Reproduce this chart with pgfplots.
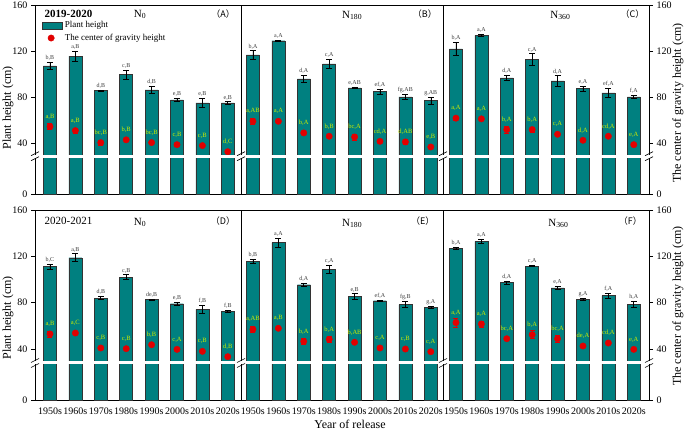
\documentclass[border=0pt]{standalone}
\usepackage{pgfplots}
\pgfplotsset{compat=1.18}
\usepackage{pgfplotstable}
\usepackage{fontspec}
\setmainfont{Liberation Serif}
\newfontfamily\cjk{Noto Sans CJK SC}
\definecolor{barteal}{RGB}{0,128,128}
\definecolor{dotred}{RGB}{225,0,0}
\definecolor{lblgreen}{RGB}{205,235,0}
\definecolor{lblgray}{RGB}{60,60,60}

\pgfplotstableread{
x h he c ce lt lc
0 107.2 3 54.5 2.5 b,B a,B
1 115.6 4.5 51 2 a,B a,B
2 85.8 0.5 40.6 2 d,B bc,B
3 99.7 4 43 1.2 c,B b,B
4 86.4 3 40.6 1 d,B bc,B
5 77.7 1.5 38.8 1.2 e,B c,B
6 75.0 4 38 1.2 e,B c,B
7 75.1 1 32.7 1 e,B d,C
}\tabA
\pgfplotstableread{
x h he c ce lt lc
0 116.8 3.5 59.1 3 b,A a,AB
1 129.0 0.5 59.1 1.5 a,A a,A
2 95.9 3 49 1 d,A b,A
3 109 4 46.1 1 c,A b,B
4 88.1 0.8 45.5 2.5 e,AB bc,A
5 84.9 2 41.7 1 ef,A cd,A
6 80.3 2 41.2 2.5 fg,AB d,AB
7 77.1 3 36.8 1 g,AB e,B
}\tabB
\pgfplotstableread{
x h he c ce lt lc
0 122 5.5 61.8 1.5 b,A a,A
1 133.6 1 61.2 1.5 a,A a,A
2 96.8 2.5 51.9 3 d,A b,A
3 112.8 5 51.9 2 c,A b,A
4 94.2 4.5 47.8 1 d,A c,A
5 87.5 2 42.6 1 e,A d,A
6 83.8 4 46.1 1 ef,A cd,A
7 80.3 1.5 38.8 1 f,A e,A
}\tabC
\pgfplotstableread{
x h he c ce lt lc
0 111.1 2 53 2.5 b,C a,B
1 118.8 3.5 53.8 1 a,B a,C
2 84.0 1.5 40.9 1.5 d,B c,B
3 102.1 2 40.3 1 c,B c,B
4 82.6 0.5 43.7 1 de,B b,B
5 79.1 1 39.7 1 e,B c,A
6 74.2 3.5 38 2 f,B c,B
7 72.5 1 33.4 1.5 f,B d,B
}\tabD
\pgfplotstableread{
x h he c ce lt lc
0 115.7 2 57 2.5 b,B a,AB
1 131.8 4 57.9 1 a,A a,B
2 95.5 1 46.6 2.5 d,A b,A
3 108.8 3.5 48.4 2.5 c,A b,A
4 85.2 2.5 45.8 1 e,B b,AB
5 81.7 0.3 40.9 1.5 ef,A c,A
6 78.3 2.5 40 1 fg,B c,B
7 76 0.5 37.7 1 g,A c,A
}\tabE
\pgfplotstableread{
x h he c ce lt lc
0 126.9 1 62.8 4 b,A a,A
1 133 2 61.6 2.5 a,A a,A
2 97.3 1.5 48.9 1.5 d,A bc,A
3 111.6 0.5 52.4 3.5 c,A b,A
4 92.7 1.5 48.9 3 e,A bc,A
5 82.9 0.5 42.6 1 g,A de,A
6 86.1 2 45.2 1 f,A cd,A
7 78.6 2.5 39.7 1 h,A e,A
}\tabF

\pgfplotsset{
  y coord trafo/.code={\pgfmathparse{#1<30 ? #1*34/30 : #1+4}},
  y coord inv trafo/.code={\pgfmathparse{#1<34 ? #1*30/34 : #1-4}},
  panelbase/.style={
    scale only axis, anchor=south west, clip=false,
    ymin=0, ymax=160,
    ytick={0,40,80,120,160}, yticklabels={0,40,80,120,160},
    xtick={0,...,7}, xticklabels={}, xtick style={draw=none},
    tick align=outside, major tick length=4pt,
    axis line style={line width=0.6pt, black},
    ytick style={line width=0.6pt, black},
    ticklabel style={font=\fontsize{10}{12}\selectfont},
    /pgf/number format/assume math mode=true,
  },
  leftpanel/.style={panelbase, ytick pos=left},
  midpanel/.style={panelbase, ytick=\empty},
  rightpanel/.style={panelbase, ytick pos=right, yticklabel pos=right},
  toprow/.style={height=189pt},
  botrow/.style={height=190pt, xticklabels={1950s,1960s,1970s,1980s,1990s,2000s,2010s,2020s}},
}

\newcommand{\panelplots}[1]{%
  \addplot[ybar, bar width=13pt, fill=barteal, draw=black!80, line width=0.4pt,
    legend image code/.code={\draw[fill=barteal, draw=black!80, line width=0.4pt] (0pt,-3.5pt) rectangle (20pt,3.5pt);},
    error bars/.cd, y dir=both, y explicit,
    error bar style={black, line width=0.6pt},
    error mark options={rotate=90, black, mark size=3pt, line width=0.6pt}]
    table[x=x, y=h, y error=he] {#1};
  \addplot[draw=none, mark=none, forget plot, nodes near coords, point meta=explicit symbolic,
    nodes near coords style={font=\fontsize{6}{7}\selectfont, text=lblgray, anchor=south, inner sep=0.5pt, yshift=1pt}]
    table[x=x, y expr=\thisrow{h}+\thisrow{he}, meta=lt] {#1};
  \addplot[only marks, mark=*, mark size=3.2pt, color=dotred, mark options={draw=dotred, fill=dotred},
    error bars/.cd, y dir=both, y explicit,
    error bar style={dotred, line width=0.6pt},
    error mark options={rotate=90, dotred, mark size=2.5pt, line width=0.6pt}]
    table[x=x, y=c, y error=ce] {#1};
  \addplot[draw=none, mark=none, forget plot, nodes near coords, point meta=explicit symbolic,
    nodes near coords style={font=\fontsize{6.5}{7}\selectfont, text=lblgreen, anchor=center, yshift=10pt}]
    table[x=x, y=c, meta=lc] {#1};
}

\newcommand{\brk}[2]{%
  \draw[line width=0.6pt] (#1pt-4pt,#2pt-4.5pt) -- (#1pt+4pt,#2pt-0.5pt);
  \draw[line width=0.6pt] (#1pt-4pt,#2pt+0.5pt) -- (#1pt+4pt,#2pt+4.5pt);
}

\begin{document}
\begin{tikzpicture}
\useasboundingbox (0pt,0pt) rectangle (685pt,430pt);

% ---------------- top row ----------------
\begin{axis}[leftpanel, toprow, at={(35pt,236pt)}, width=206pt, xmin=-0.59, xmax=7.52,
  legend style={draw=none, fill=none, at={(0.035,0.925)}, anchor=north west,
    font=\fontsize{9}{10}\selectfont, inner sep=0pt, row sep=1pt, legend cell align=left},
  legend entries={Plant height, The center of gravity height}]
  \panelplots{\tabA}
  \node[font=\bfseries\fontsize{11}{13}\selectfont, anchor=west] at (rel axis cs:0.03,0.955) {2019-2020};
  \node[font=\fontsize{11}{13}\selectfont] at (rel axis cs:0.51,0.95) {N\textsubscript{0}};
  \node[font=\fontsize{9}{11}\selectfont] at (rel axis cs:0.913,0.952) {\cjk{（}A\cjk{）}};
\end{axis}
\begin{axis}[midpanel, toprow, at={(241pt,236pt)}, width=202pt, xmin=-0.47, xmax=7.48]
  \panelplots{\tabB}
  \node[font=\fontsize{11}{13}\selectfont] at (rel axis cs:0.55,0.945) {N\textsubscript{180}};
  \node[font=\fontsize{9}{11}\selectfont] at (rel axis cs:0.91,0.952) {\cjk{（}B\cjk{）}};
\end{axis}
\begin{axis}[rightpanel, toprow, at={(443pt,236pt)}, width=206pt, xmin=-0.51, xmax=7.6]
  \panelplots{\tabC}
  \node[font=\fontsize{11}{13}\selectfont] at (rel axis cs:0.57,0.945) {N\textsubscript{360}};
  \node[font=\fontsize{9}{11}\selectfont] at (rel axis cs:0.92,0.952) {\cjk{（}C\cjk{）}};
\end{axis}

% ---------------- bottom row ----------------
\begin{axis}[leftpanel, botrow, at={(35pt,30pt)}, width=206pt, xmin=-0.59, xmax=7.52]
  \panelplots{\tabD}
  \node[font=\fontsize{11}{13}\selectfont, anchor=west] at (rel axis cs:0.03,0.94) {2020-2021};
  \node[font=\fontsize{11}{13}\selectfont] at (rel axis cs:0.51,0.935) {N\textsubscript{0}};
  \node[font=\fontsize{9}{11}\selectfont] at (rel axis cs:0.913,0.94) {\cjk{（}D\cjk{）}};
\end{axis}
\begin{axis}[midpanel, botrow, at={(241pt,30pt)}, width=202pt, xmin=-0.47, xmax=7.48]
  \panelplots{\tabE}
  \node[font=\fontsize{11}{13}\selectfont] at (rel axis cs:0.55,0.93) {N\textsubscript{180}};
  \node[font=\fontsize{9}{11}\selectfont] at (rel axis cs:0.9,0.94) {\cjk{（}E\cjk{）}};
\end{axis}
\begin{axis}[rightpanel, botrow, at={(443pt,30pt)}, width=206pt, xmin=-0.51, xmax=7.6]
  \panelplots{\tabF}
  \node[font=\fontsize{11}{13}\selectfont] at (rel axis cs:0.56,0.93) {N\textsubscript{360}};
  \node[font=\fontsize{9}{11}\selectfont] at (rel axis cs:0.91,0.94) {\cjk{（}F\cjk{）}};
\end{axis}

% ---------------- axis breaks ----------------
\fill[white] (31pt,272.3pt) rectangle (653pt,275.3pt);
\fill[white] (31pt,65.5pt) rectangle (653pt,68.5pt);
\foreach \xx in {35,241,443,649} {
  \brk{\xx}{273.8}
  \brk{\xx}{67}
}

% ---------------- outer labels ----------------
\node[rotate=90, font=\fontsize{12}{14}\selectfont] at (8pt,322pt) {Plant height (cm)};
\node[rotate=90, font=\fontsize{12}{14}\selectfont] at (8pt,112pt) {Plant height (cm)};
\node[rotate=90, font=\fontsize{12}{14}\selectfont] at (678pt,327pt) {The center of gravity height (cm)};
\node[rotate=90, font=\fontsize{12}{14}\selectfont] at (678pt,124pt) {The center of gravity height (cm)};
\node[font=\fontsize{12}{14}\selectfont] at (350pt,6pt) {Year of release};
\end{tikzpicture}
\end{document}
